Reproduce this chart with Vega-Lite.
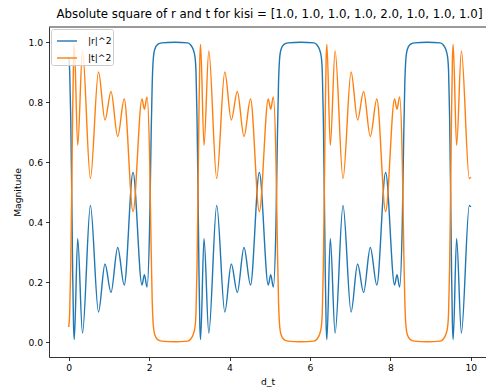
{
  "$schema": "https://vega.github.io/schema/vega-lite/v6.json",
  "width": 437,
  "height": 330,
  "autosize": {"type": "none"},
  "padding": {"left": 49, "top": 27, "right": 0, "bottom": 33},
  "title": {
    "text": "Absolute square of r and t for kisi = [1.0, 1.0, 1.0, 1.0, 2.0, 1.0, 1.0, 1.0]",
    "font": "DejaVu Sans",
    "fontSize": 11.8,
    "fontWeight": "normal",
    "color": "#000000",
    "anchor": "middle",
    "offset": 6,
    "dx": 2
  },
  "config": {
    "view": {"stroke": null},
    "axis": {
      "labelFont": "DejaVu Sans",
      "labelFontSize": 9.2,
      "labelColor": "#000000",
      "titleFont": "DejaVu Sans",
      "titleFontSize": 9.2,
      "titleFontWeight": "normal",
      "titleColor": "#000000",
      "domainColor": "#000000",
      "domainWidth": 0.8,
      "tickColor": "#000000",
      "tickWidth": 0.8,
      "tickSize": 3.5,
      "labelPadding": 3,
      "grid": false
    }
  },
  "layer": [
    {
      "data": {
        "values": [
          {"d": 0.0, "r2": 0.95, "t2": 0.05},
          {"d": 0.025, "r2": 0.90, "t2": 0.10},
          {"d": 0.05, "r2": 0.75, "t2": 0.25},
          {"d": 0.075, "r2": 0.50, "t2": 0.50},
          {"d": 0.1, "r2": 0.22, "t2": 0.78},
          {"d": 0.12, "r2": 0.06, "t2": 0.94},
          {"d": 0.139, "r2": 0.008, "t2": 0.992},
          {"d": 0.224, "r2": 0.345, "t2": 0.655},
          {"d": 0.343, "r2": 0.03, "t2": 0.97},
          {"d": 0.54, "r2": 0.455, "t2": 0.545},
          {"d": 0.741, "r2": 0.10, "t2": 0.90},
          {"d": 0.903, "r2": 0.26, "t2": 0.74},
          {"d": 1.052, "r2": 0.165, "t2": 0.835},
          {"d": 1.219, "r2": 0.315, "t2": 0.685},
          {"d": 1.381, "r2": 0.19, "t2": 0.81},
          {"d": 1.6, "r2": 0.565, "t2": 0.435},
          {"d": 1.823, "r2": 0.19, "t2": 0.81},
          {"d": 1.883, "r2": 0.224, "t2": 0.776},
          {"d": 1.948, "r2": 0.183, "t2": 0.817},
          {"d": 2.015, "r2": 0.40, "t2": 0.60},
          {"d": 2.052, "r2": 0.70, "t2": 0.30},
          {"d": 2.077, "r2": 0.86, "t2": 0.14},
          {"d": 2.102, "r2": 0.94, "t2": 0.06},
          {"d": 2.139, "r2": 0.975, "t2": 0.025},
          {"d": 2.214, "r2": 0.992, "t2": 0.008},
          {"d": 2.313, "r2": 0.997, "t2": 0.003},
          {"d": 2.637, "r2": 0.999, "t2": 0.001},
          {"d": 2.96, "r2": 0.997, "t2": 0.003},
          {"d": 3.035, "r2": 0.99, "t2": 0.01},
          {"d": 3.097, "r2": 0.975, "t2": 0.025},

          {"d": 3.1416, "r2": 0.95, "t2": 0.05},
          {"d": 3.1666, "r2": 0.90, "t2": 0.10},
          {"d": 3.1916, "r2": 0.75, "t2": 0.25},
          {"d": 3.2166, "r2": 0.50, "t2": 0.50},
          {"d": 3.2416, "r2": 0.22, "t2": 0.78},
          {"d": 3.2616, "r2": 0.06, "t2": 0.94},
          {"d": 3.2806, "r2": 0.008, "t2": 0.992},
          {"d": 3.3656, "r2": 0.345, "t2": 0.655},
          {"d": 3.4846, "r2": 0.03, "t2": 0.97},
          {"d": 3.6816, "r2": 0.455, "t2": 0.545},
          {"d": 3.8826, "r2": 0.10, "t2": 0.90},
          {"d": 4.0446, "r2": 0.26, "t2": 0.74},
          {"d": 4.1936, "r2": 0.165, "t2": 0.835},
          {"d": 4.3606, "r2": 0.315, "t2": 0.685},
          {"d": 4.5226, "r2": 0.19, "t2": 0.81},
          {"d": 4.7416, "r2": 0.565, "t2": 0.435},
          {"d": 4.9646, "r2": 0.19, "t2": 0.81},
          {"d": 5.0246, "r2": 0.224, "t2": 0.776},
          {"d": 5.0896, "r2": 0.183, "t2": 0.817},
          {"d": 5.1566, "r2": 0.40, "t2": 0.60},
          {"d": 5.1936, "r2": 0.70, "t2": 0.30},
          {"d": 5.2186, "r2": 0.86, "t2": 0.14},
          {"d": 5.2436, "r2": 0.94, "t2": 0.06},
          {"d": 5.2806, "r2": 0.975, "t2": 0.025},
          {"d": 5.3556, "r2": 0.992, "t2": 0.008},
          {"d": 5.4546, "r2": 0.997, "t2": 0.003},
          {"d": 5.7786, "r2": 0.999, "t2": 0.001},
          {"d": 6.1016, "r2": 0.997, "t2": 0.003},
          {"d": 6.1766, "r2": 0.99, "t2": 0.01},
          {"d": 6.2386, "r2": 0.975, "t2": 0.025},

          {"d": 6.2832, "r2": 0.95, "t2": 0.05},
          {"d": 6.3082, "r2": 0.90, "t2": 0.10},
          {"d": 6.3332, "r2": 0.75, "t2": 0.25},
          {"d": 6.3582, "r2": 0.50, "t2": 0.50},
          {"d": 6.3832, "r2": 0.22, "t2": 0.78},
          {"d": 6.4032, "r2": 0.06, "t2": 0.94},
          {"d": 6.4222, "r2": 0.008, "t2": 0.992},
          {"d": 6.5072, "r2": 0.345, "t2": 0.655},
          {"d": 6.6262, "r2": 0.03, "t2": 0.97},
          {"d": 6.8232, "r2": 0.455, "t2": 0.545},
          {"d": 7.0242, "r2": 0.10, "t2": 0.90},
          {"d": 7.1862, "r2": 0.26, "t2": 0.74},
          {"d": 7.3352, "r2": 0.165, "t2": 0.835},
          {"d": 7.5022, "r2": 0.315, "t2": 0.685},
          {"d": 7.6642, "r2": 0.19, "t2": 0.81},
          {"d": 7.8832, "r2": 0.565, "t2": 0.435},
          {"d": 8.1062, "r2": 0.19, "t2": 0.81},
          {"d": 8.1662, "r2": 0.224, "t2": 0.776},
          {"d": 8.2312, "r2": 0.183, "t2": 0.817},
          {"d": 8.2982, "r2": 0.40, "t2": 0.60},
          {"d": 8.3352, "r2": 0.70, "t2": 0.30},
          {"d": 8.3602, "r2": 0.86, "t2": 0.14},
          {"d": 8.3852, "r2": 0.94, "t2": 0.06},
          {"d": 8.4222, "r2": 0.975, "t2": 0.025},
          {"d": 8.4972, "r2": 0.992, "t2": 0.008},
          {"d": 8.5962, "r2": 0.997, "t2": 0.003},
          {"d": 8.9202, "r2": 0.999, "t2": 0.001},
          {"d": 9.2432, "r2": 0.997, "t2": 0.003},
          {"d": 9.3182, "r2": 0.99, "t2": 0.01},
          {"d": 9.3802, "r2": 0.975, "t2": 0.025},

          {"d": 9.4248, "r2": 0.95, "t2": 0.05},
          {"d": 9.4498, "r2": 0.90, "t2": 0.10},
          {"d": 9.4748, "r2": 0.75, "t2": 0.25},
          {"d": 9.4998, "r2": 0.50, "t2": 0.50},
          {"d": 9.5248, "r2": 0.22, "t2": 0.78},
          {"d": 9.5448, "r2": 0.06, "t2": 0.94},
          {"d": 9.5638, "r2": 0.008, "t2": 0.992},
          {"d": 9.6488, "r2": 0.345, "t2": 0.655},
          {"d": 9.7678, "r2": 0.03, "t2": 0.97},
          {"d": 9.9648, "r2": 0.455, "t2": 0.545},
          {"d": 10.0, "r2": 0.45, "t2": 0.55}
        ]
      },
      "transform": [
        {"fold": ["r2", "t2"], "as": ["series", "value"]}
      ],
      "mark": {"type": "line", "interpolate": "monotone", "strokeWidth": 1.4, "clip": true},
      "encoding": {
        "x": {
          "field": "d",
          "type": "quantitative",
          "scale": {"domain": [-0.49, 10.38], "nice": false, "zero": false},
          "axis": {"values": [0, 2, 4, 6, 8, 10], "format": "d", "title": "d_t", "titlePadding": 5}
        },
        "y": {
          "field": "value",
          "type": "quantitative",
          "scale": {"domain": [-0.05, 1.05], "nice": false, "zero": false},
          "axis": {"values": [0, 0.2, 0.4, 0.6, 0.8, 1.0], "format": ".1f", "title": "Magnitude", "titlePadding": 5}
        },
        "color": {
          "field": "series",
          "type": "nominal",
          "scale": {"domain": ["r2", "t2"], "range": ["#1f77b4", "#ff7f0e"]},
          "legend": {
            "title": null,
            "orient": "top-left",
            "offset": 2,
            "symbolType": "stroke",
            "symbolSize": 400,
            "symbolStrokeWidth": 1.4,
            "symbolOffset": 4,
            "labelFont": "DejaVu Sans",
            "labelFontSize": 9.2,
            "labelColor": "#000000",
            "labelOffset": 10,
            "fillColor": "rgba(255,255,255,0.8)",
            "strokeColor": "#cccccc",
            "padding": 1,
            "cornerRadius": 2,
            "rowPadding": -5,
            "labelExpr": "datum.label == 'r2' ? '|r|^2' : '|t|^2'"
          }
        }
      }
    },
    {
      "data": {"values": [{}]},
      "mark": {"type": "rule", "color": "#000000", "strokeWidth": 0.8},
      "encoding": {"y": {"datum": 1.05}}
    }
  ]
}
